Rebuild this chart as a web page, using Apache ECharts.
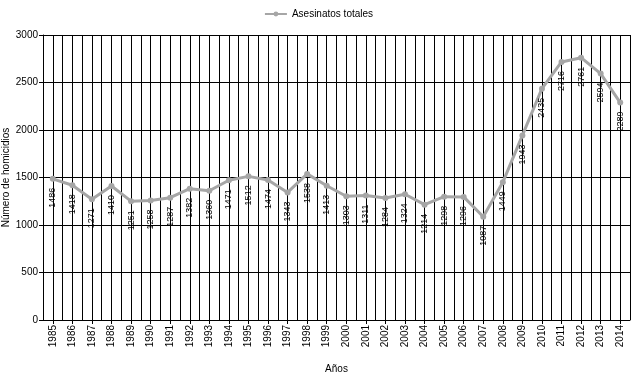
<!DOCTYPE html>
<html><head><meta charset="utf-8">
<script src="https://cdn.jsdelivr.net/npm/echarts@6/dist/echarts.min.js"></script>
<style>html,body{margin:0;padding:0;background:#fff}#c{width:637px;height:377px}</style>
</head><body><div id="c"></div>
<script>
const years = ['1985','1986','1987','1988','1989','1990','1991','1992','1993','1994','1995','1996','1997','1998','1999','2000','2001','2002','2003','2004','2005','2006','2007','2008','2009','2010','2011','2012','2013','2014'];
const asesinatos = [1486,1418,1271,1410,1251,1258,1287,1382,1360,1471,1512,1474,1343,1538,1413,1303,1311,1284,1324,1214,1298,1296,1087,1449,1943,2435,2716,2761,2594,2289];
const yTicks = {min:0, max:3000, interval:500};
const F = 'Liberation Sans';
const chart = echarts.init(document.getElementById('c'));
chart.setOption({
  animation:false,
  textStyle:{fontFamily:F},
  legend:{top:4,left:'center',data:['Asesinatos totales'],itemWidth:22,itemHeight:6,
    textStyle:{fontFamily:F,fontSize:10,color:'#000'}},
  grid:{left:43,right:7,top:35,bottom:57,containLabel:false,outerBoundsMode:'none'},
  xAxis:[{type:'category',data:years,boundaryGap:true,
    name:'Años',nameLocation:'middle',nameGap:44,nameMoveOverlap:false,nameTextStyle:{fontFamily:F,fontSize:10,color:'#000'},
    axisLine:{lineStyle:{color:'#000',width:1}},
    axisTick:{show:true,alignWithLabel:true,length:4,lineStyle:{color:'#000'}},
    axisLabel:{rotate:90,interval:0,fontFamily:F,fontSize:10,color:'#000',margin:5},
    splitLine:{show:false}},
   {type:'value',min:0,max:60,interval:1,position:'top',show:true,
    axisLine:{show:true,lineStyle:{color:'#000'}},axisTick:{show:false},axisLabel:{show:false},
    splitLine:{show:true,lineStyle:{color:'#000',width:1}}}],
  yAxis:{type:'value',min:yTicks.min,max:yTicks.max,interval:yTicks.interval,
    name:'Número de homicidios',nameLocation:'middle',nameGap:32,nameMoveOverlap:false,nameTextStyle:{fontFamily:F,fontSize:10,color:'#000'},
    axisLine:{show:true,lineStyle:{color:'#000'}},axisTick:{show:true,length:4,lineStyle:{color:'#000'}},
    axisLabel:{fontFamily:F,fontSize:10,color:'#000',margin:5,formatter:v=>String(v)},
    splitLine:{show:true,lineStyle:{color:'#000',width:1}}},
  series:[{name:'Asesinatos totales',type:'line',xAxisIndex:0,data:asesinatos,
    symbol:'circle',symbolSize:6,
    lineStyle:{color:'#a6a6a6',width:3},itemStyle:{color:'#a6a6a6'},
    label:{show:true,position:'bottom',rotate:90,align:'right',verticalAlign:'middle',distance:6,
      fontFamily:F,fontSize:9,color:'#000'}}]
});
</script></body></html>
